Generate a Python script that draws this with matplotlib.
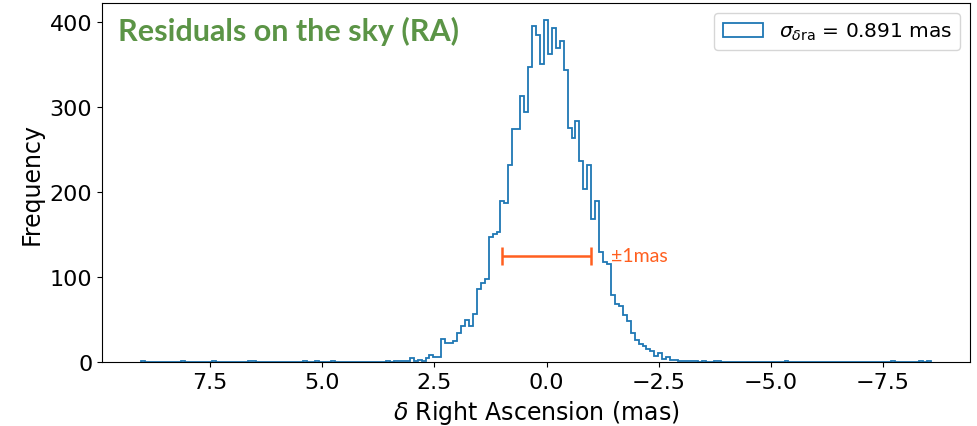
import numpy as np
import matplotlib
matplotlib.use("Agg")
from matplotlib import pyplot as plt
from matplotlib.ticker import MultipleLocator

# residuos en RA: 200 bins, listados desde el extremo +delta (izquierda del eje invertido)
x_max = 9.03
x_min = -8.56
counts = [
    1, 0, 0, 0, 0, 0, 0, 0, 0, 0,
    1, 0, 0, 0, 0, 0, 0, 0, 1, 0,
    0, 0, 0, 0, 0, 0, 0, 1, 1, 0,
    0, 0, 0, 0, 0, 0, 0, 0, 0, 0,
    0, 1, 0, 0, 1, 0, 0, 0, 1, 0,
    0, 0, 0, 0, 0, 0, 0, 0, 0, 0,
    0, 0, 1, 0, 1, 2, 2, 1, 5, 2,
    3, 1, 5, 9, 6, 6, 27, 23, 23, 25,
    34, 43, 50, 43, 57, 86, 93, 98, 147, 151,
    153, 190, 187, 232, 274, 274, 313, 294, 347, 395,
    384, 351, 402, 362, 393, 369, 377, 343, 275, 263,
    284, 237, 204, 232, 168, 189, 129, 118, 115, 79,
    68, 66, 56, 48, 34, 26, 21, 19, 16, 13,
    7, 11, 4, 6, 3, 3, 2, 2, 1, 2,
    1, 0, 1, 0, 0, 1, 1, 0, 0, 0,
    0, 0, 0, 0, 0, 0, 0, 0, 0, 0,
    0, 0, 0, 1, 0, 0, 0, 0, 0, 0,
    0, 0, 0, 0, 0, 0, 0, 0, 0, 0,
    0, 0, 0, 0, 0, 0, 0, 0, 0, 0,
    1, 0, 0, 0, 0, 0, 0, 1, 0, 1,
]
sigma_ra = 0.891

# barra de +-1 mas
bar_center = 0.0
bar_half = 1.0
bar_y = 125
bar_label = "±1mas"
title = "Residuals on the sky (RA)"

green = "#5b9446"
orange = "#ff5f1f"

fig = plt.figure(figsize=(9.78, 4.27), dpi=100)
ax = fig.add_axes([0.1043, 0.1492, 0.8875, 0.8414])

edges = np.linspace(x_min, x_max, len(counts) + 1)
centers = 0.5 * (edges[:-1] + edges[1:])
w = np.array(counts[::-1], dtype=float)

ax.hist(centers, bins=edges, weights=w, histtype="step", color="C0",
        linewidth=1.3, label=r"$\sigma_{\delta\mathrm{ra}}$ = %.3f mas" % sigma_ra)
ax.invert_xaxis()
ax.yaxis.set_major_locator(MultipleLocator(100))

ax.errorbar(bar_center, bar_y, xerr=bar_half, color=orange, capsize=6.5,
            elinewidth=1.8, capthick=1.8, fmt="none")
ax.text(bar_center - bar_half - 0.43, bar_y, bar_label, color=orange,
        fontsize=14, family="Lato", va="center", ha="left")

ax.text(0.018, 0.965, title, transform=ax.transAxes, color=green,
        fontsize=22, fontweight="bold", family="Lato", va="top", ha="left")

ax.set_xlabel(r"$\delta$ Right Ascension (mas)", fontsize=17)
ax.set_ylabel("Frequency", fontsize=17)
ax.tick_params(labelsize=16)
ax.legend(loc="upper right", fontsize=14.5)

plt.savefig("out.png", dpi=100)
